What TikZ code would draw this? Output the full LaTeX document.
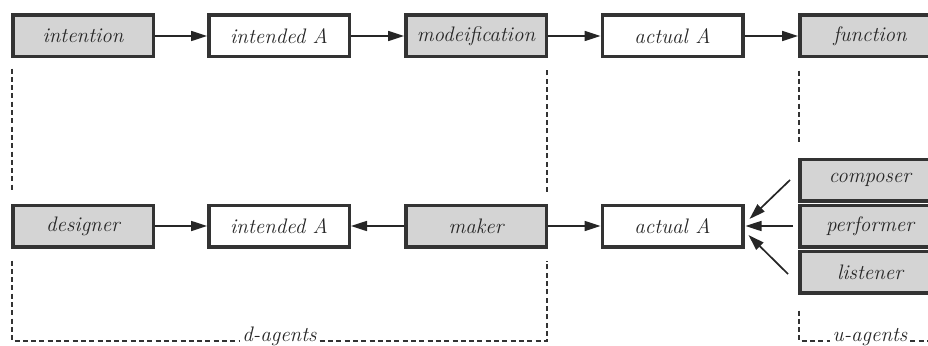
\documentclass[tikz,border=0pt]{standalone}
\usepackage{fontspec}
\usetikzlibrary{arrows.meta}
\newcommand\boxfont{\fontsize{21}{25}\selectfont\itshape\addfontfeatures{FakeBold=1.2}}
\tikzset{>={Triangle[length=16pt,width=10pt]},
  box/.style={draw=black!80,line width=3.5pt,minimum width=140.5pt,
    minimum height=41.5pt,inner sep=0pt,text=black!85,font=\boxfont},
  agentbox/.style={box,fill=black!17},
  link/.style={->,line width=1.7pt,draw=black!85},
  group/.style={draw=black!80,line width=2.2pt,dash pattern=on 5pt off 3.3pt},
  grouplabel/.style={anchor=base,inner xsep=3pt,text=black!85,font=\boxfont}}

\begin{document}
\begin{tikzpicture}[x=1pt,y=-1pt]
  \clip (0,0) rectangle (928,345);
  % top row
  \node[agentbox] (intention) at (83,36) {intention};
  \node[box] (intendedT) at (279,36) {intended A};
  \node[agentbox] (modif) at (476,36) {modeification};
  \node[box] (actualT) at (672.5,36) {actual A};
  \node[agentbox] (function) at (870,36) {function};
  \draw[link] (intention) -- (intendedT);
  \draw[link] (intendedT) -- (modif);
  \draw[link] (modif) -- (actualT);
  \draw[link] (actualT) -- (function);
  % bottom row
  \node[agentbox] (designer) at (83,226) {designer};
  \node[box] (intendedB) at (279,226) {intended A};
  \node[agentbox] (maker) at (476,226) {maker};
  \node[box] (actualB) at (672.5,226) {actual A};
  \node[agentbox] (composer) at (870,180) {composer};
  \node[agentbox] (performer) at (870,226) {performer};
  \node[agentbox] (listener) at (870,272) {listener};
  \draw[link] (designer) -- (intendedB);
  \draw[link] (maker) -- (intendedB);
  \draw[link] (maker) -- (actualB);
  \draw[link] ([xshift=-8pt]composer.west) -- ([xshift=5pt,yshift=7pt]actualB.east);
  \draw[link] ([xshift=-5pt]performer.west) -- ([xshift=1pt]actualB.east);
  \draw[link] ([xshift=-10pt,yshift=-2pt]listener.west) -- ([xshift=4pt,yshift=-9pt]actualB.east);
  % agent groups
  \node[grouplabel] (dlab) at (279.5,341) {d-agents};
  \node[grouplabel] (ulab) at (870,341) {u-agents};
  \draw[group] ([xshift=1pt,yshift=-10pt]intention.south west) -- ([xshift=1pt,yshift=12pt]designer.north west)
    ([xshift=1pt,yshift=-12pt]designer.south west) |- (dlab.base west)
    (dlab.base east) -| ([xshift=-1pt,yshift=-12pt]maker.south east)
    ([xshift=-1pt,yshift=12pt]maker.north east) -- ([xshift=-1pt,yshift=-10pt]modif.south east);
  \draw[group] ([xshift=1pt,yshift=-12pt]function.south west) -- ([xshift=1pt,yshift=14pt]composer.north west)
    ([xshift=1pt,yshift=-16pt]listener.south west) |- (ulab.base west)
    (ulab.base east) -- ++(60,0);
\end{tikzpicture}
\end{document}
